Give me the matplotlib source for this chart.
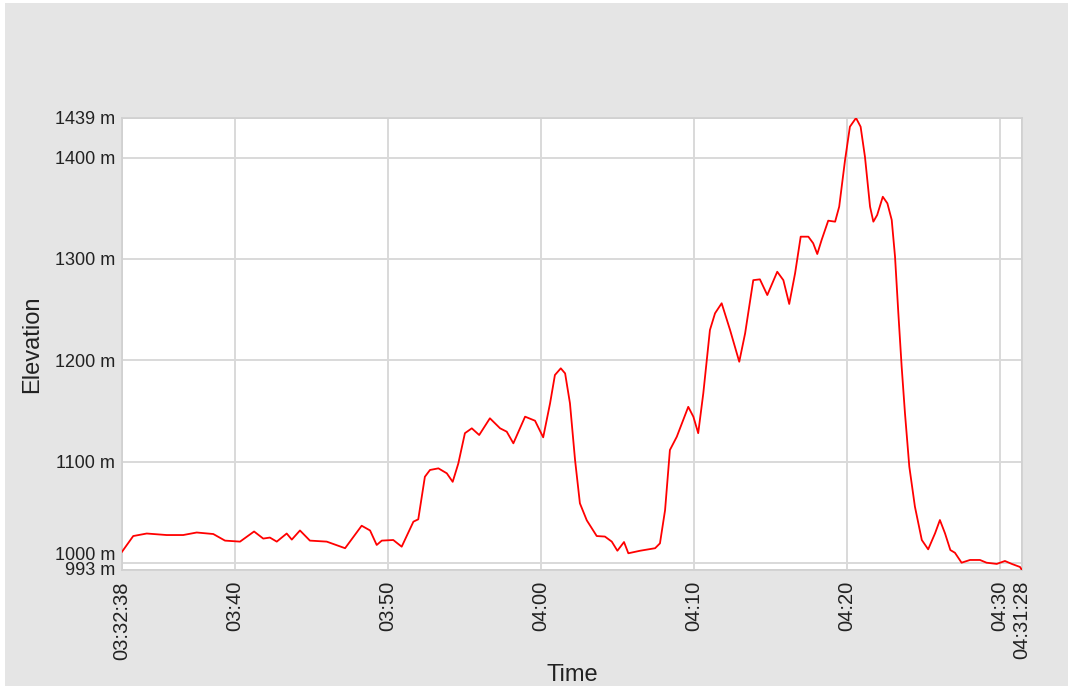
import matplotlib
matplotlib.use("Agg")
import matplotlib.pyplot as plt
from matplotlib.patches import Rectangle
from matplotlib.transforms import ScaledTranslation

plt.rcParams['font.family'] = ['Liberation Sans', 'DejaVu Sans']

start_time = "03:32:38"
end_time = "04:31:28"

elapsed_s = [0, 44, 97, 175, 240, 293, 358, 404, 463, 518, 554, 580, 607, 646, 666, 698,
             737, 803, 875, 940, 973, 999, 1019, 1064, 1097, 1143, 1162, 1188, 1208, 1241,
             1274, 1297, 1319, 1345, 1372, 1401, 1443, 1483, 1509, 1535, 1581, 1620, 1652,
             1679, 1698, 1721, 1738, 1757, 1777, 1796, 1823, 1862, 1894, 1921, 1943, 1969,
             1986, 2032, 2091, 2110, 2130, 2149, 2176, 2221, 2241, 2260, 2280, 2306, 2326,
             2352, 2385, 2421, 2444, 2476, 2502, 2531, 2570, 2594, 2617, 2640, 2662, 2692,
             2711, 2727, 2744, 2770, 2797, 2813, 2836, 2855, 2879, 2897, 2914, 2934, 2947,
             2962, 2984, 3002, 3019, 3032, 3045, 3058, 3071, 3088, 3110, 3137, 3162, 3189,
             3208, 3228, 3249, 3267, 3293, 3326, 3365, 3391, 3431, 3463, 3490, 3522, 3530]

elevation_m = [1011, 1026.5, 1029, 1027.5, 1027.5, 1030, 1028.5, 1022, 1021, 1031, 1024, 1025,
               1021, 1029, 1023, 1032, 1022, 1021, 1014.5, 1036.7, 1032, 1017.7, 1022, 1022.6,
               1016, 1040.7, 1043, 1085, 1091.7, 1093.3, 1088.4, 1080, 1098, 1128, 1132.8,
               1126.2, 1142.7, 1132.8, 1129.5, 1118, 1144.3, 1140.3, 1123.9, 1157.5, 1185.4,
               1192, 1187, 1157.5, 1101.5, 1058.8, 1042, 1026.5, 1026, 1021, 1012, 1020.6,
               1009.5, 1012, 1014.5, 1019.3, 1052, 1111.4, 1124.5, 1154, 1144.3, 1128, 1167.4,
               1229.8, 1246.3, 1256.2, 1229.8, 1198.5, 1226.5, 1279, 1279.8, 1264.3, 1287.3,
               1279, 1255.5, 1285.8, 1321.9, 1321.9, 1315.4, 1304.8, 1318.6, 1337.7, 1336.7,
               1351.5, 1397.6, 1430.4, 1439, 1430.4, 1400.8, 1351.5, 1336.7, 1343.3, 1361.3,
               1354.8, 1338.4, 1302.1, 1246.3, 1193.6, 1147.6, 1095, 1055.5, 1022.6, 1013.4,
               1029.2, 1042.3, 1029.2, 1012.7, 1010, 1000.2, 1002.9, 1002.9, 1000.2, 999,
               1001.9, 999, 996, 993]

x_tick_labels = ["03:32:38", "03:40", "03:50", "04:00", "04:10", "04:20", "04:30", "04:31:28"]
y_ticks = [993, 1000, 1100, 1200, 1300, 1400, 1439]
y_min, y_max = 993, 1439


def to_sec(s):
    parts = [int(p) for p in s.split(":")]
    while len(parts) < 3:
        parts.append(0)
    return parts[0] * 3600 + parts[1] * 60 + parts[2]


t0 = to_sec(start_time)
t1 = to_sec(end_time)
times = [t0 + e for e in elapsed_s]
x_ticks = [to_sec(l) for l in x_tick_labels]

W, H = 1068, 689
fig = plt.figure(figsize=(W / 100, H / 100), dpi=100, facecolor='white')
bg = Rectangle((5 / W, 3 / H), 1063 / W, 683 / H, transform=fig.transFigure,
               facecolor='#e5e5e5', edgecolor='none', zorder=-10)
fig.add_artist(bg)

ax = fig.add_axes([122 / W, (H - 570) / H, 900 / W, 452 / H])
ax.set_zorder(5)
ax.set_facecolor('white')
ax.plot(times, elevation_m, color='#ff0000', linewidth=1.3, zorder=3,
        solid_joinstyle='round')
ax.set_xlim(t0, t1)
ax.set_ylim(y_min, y_max)

ax.set_xticks(x_ticks)
ax.set_xticklabels(x_tick_labels, rotation=90, va='top', ha='center')
ax.set_yticks(y_ticks)
ax.set_yticklabels([f"{v} m" for v in y_ticks])
ax.tick_params(axis='both', length=0, labelcolor='#222222')
ax.tick_params(axis='y', pad=5, labelsize=13)
ax.tick_params(axis='x', pad=8, labelsize=14.5)
ax.grid(True, color='#d9d9d9', linewidth=1.4, zorder=1)
for sp in ax.spines.values():
    sp.set_color('#d0d0d0')
    sp.set_linewidth(1.2)

# nudge the two crowded bottom labels upward, as in the reference
shift_px = {993: 1, 1000: 9}
for val, lab in zip(y_ticks, ax.get_yticklabels()):
    if val in shift_px:
        lab.set_transform(lab.get_transform() +
                          ScaledTranslation(0, shift_px[val] / 100, fig.dpi_scale_trans))

ax.set_xlabel("Time", fontsize=17, color='#222222', labelpad=3)
ax.set_ylabel("Elevation", fontsize=17, color='#222222', labelpad=8)

fig.savefig("out.png", dpi=100, facecolor=fig.get_facecolor())
